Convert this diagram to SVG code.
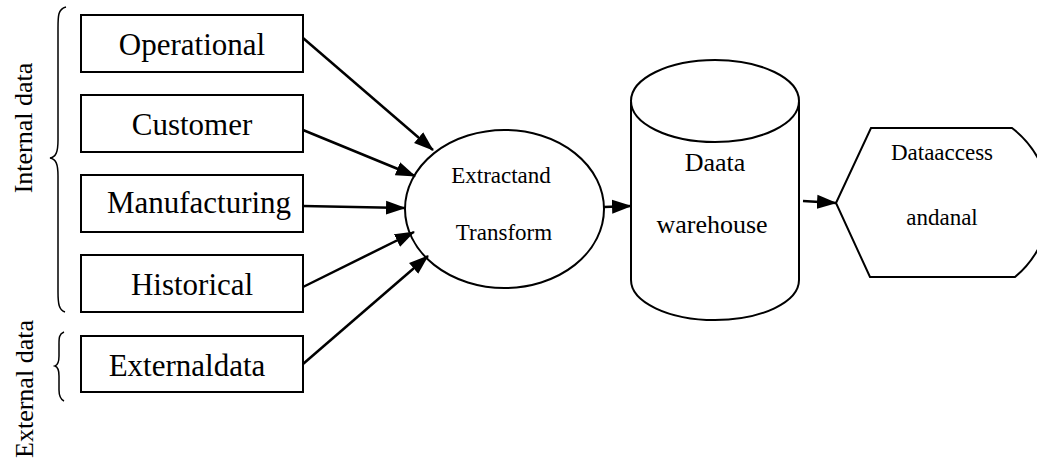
<svg xmlns="http://www.w3.org/2000/svg" width="1037" height="461" viewBox="0 0 1037 461">
<style>
.box{fill:#fff;stroke:#000;stroke-width:2}
.shape{fill:#fff;stroke:#000;stroke-width:2}
.t{font-family:"Liberation Serif",serif;fill:#000;text-anchor:middle}
.big{font-size:31px}
.mid{font-size:23px}
.wh{font-size:26px}
.side{font-size:26px}
.conn line{stroke:#000;stroke-width:2.5;marker-end:url(#ah)}
.brace{fill:none;stroke:#000;stroke-width:1.5}
</style>
<defs>
<marker id="ah" markerUnits="userSpaceOnUse" markerWidth="20" markerHeight="16" viewBox="0 0 20 16" refX="19" refY="8" orient="auto">
<path d="M0,1 L20,8 L0,15 Z" fill="#000"/>
</marker>
</defs>
<g id="labels">
<text class="t side" transform="translate(32,128) rotate(-90)">Internal data</text>
<text class="t side" transform="translate(33,389) rotate(-90)">External data</text>
<path class="brace" d="M66,7 C58,9 58,16 58,28 L58,140 C58,152 56,157 50,158 C56,159 58,164 58,176 L58,292 C58,304 59,310 65,312"/>
<path class="brace" d="M64,332 C59,334 59,338 59,344 L59,356 C59,362 58,365 55,366 C58,367 59,370 59,376 L59,390 C59,396 60,399 64,401"/>
</g>
<g id="operational"><rect class="box" x="81" y="15" width="222" height="57"/><text class="t big" x="192" y="55">Operational</text></g>
<g id="customer"><rect class="box" x="81" y="95" width="222" height="57"/><text class="t big" x="192" y="135">Customer</text></g>
<g id="manufacturing"><rect class="box" x="81" y="175" width="222" height="57"/><text class="t big" x="199" y="213">Manufacturing</text></g>
<g id="historical"><rect class="box" x="81" y="255" width="222" height="57"/><text class="t big" x="192" y="295">Historical</text></g>
<g id="external"><rect class="box" x="81" y="336" width="222" height="56"/><text class="t big" x="187" y="376">Externaldata</text></g>
<g id="extract"><ellipse class="shape" cx="504.5" cy="209" rx="99.5" ry="79"/><text class="t mid" x="501" y="183">Extractand</text><text class="t mid" x="504" y="240">Transform</text></g>
<g id="warehouse"><path class="shape" d="M631,102 L631,280 A84,40 0 0 0 799,280 L799,102"/><ellipse class="shape" cx="715" cy="101" rx="84" ry="41"/><text class="t wh" x="715" y="171">Daata</text><text class="t wh" x="712" y="233">warehouse</text></g>
<g id="access"><path class="shape" d="M836,203 L871,128 L1012,128 A95,95 0 0 1 1015,277 L870,277 Z"/><text class="t mid" x="942" y="160">Dataaccess</text><text class="t mid" x="942" y="225">andanal</text></g>
<g id="connectors" class="conn">
<line x1="303" y1="38" x2="433" y2="150"/>
<line x1="303" y1="130" x2="415" y2="176"/>
<line x1="303" y1="206" x2="405" y2="208"/>
<line x1="303" y1="287" x2="414" y2="232"/>
<line x1="303" y1="364" x2="428" y2="256"/>
<line x1="604" y1="207" x2="631" y2="206"/>
<line x1="803" y1="201" x2="836" y2="203"/>
</g>
</svg>
